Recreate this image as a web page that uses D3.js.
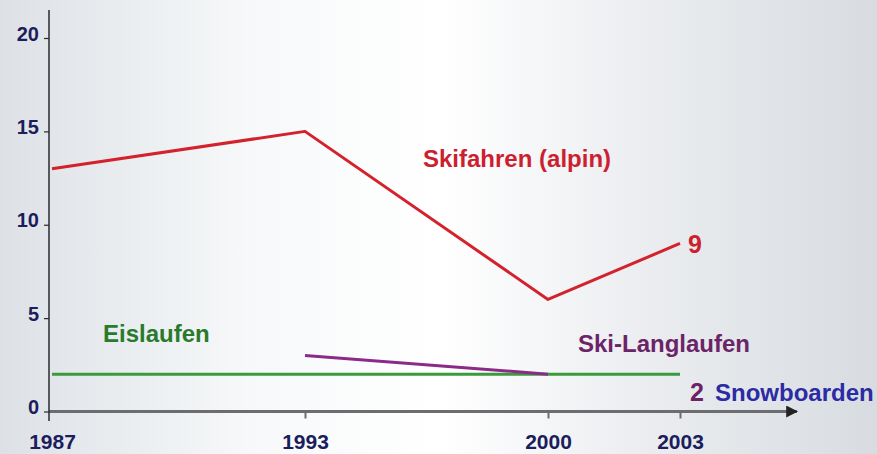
<!DOCTYPE html>
<html>
<head>
<meta charset="utf-8">
<script src="https://cdnjs.cloudflare.com/ajax/libs/d3/7.8.5/d3.min.js"></script>
<style>
  body { margin: 0; padding: 0; overflow: hidden; }
  svg { display: block; }
</style>
</head>
<body>
<div id="chart"></div>
<script>

// Data
var years = [1987, 1993, 2000, 2003];
var yTicks = [0, 5, 10, 15, 20];

var skiAlpinYears = [1987, 1993, 2000, 2003];
var skiAlpinValues = [13, 15, 6, 9];

var eislaufenYears = [1987, 2003];
var eislaufenValues = [2, 2];

var langlaufYears = [1993, 2000];
var langlaufValues = [3, 2];

// SVG frame
var svgWidth = 877;
var svgHeight = 454;

var svg = d3.select("#chart")
            .append("svg")
            .attr("width", svgWidth)
            .attr("height", svgHeight);

// background gradient
var defs = svg.append("defs");
var grad = defs.append("linearGradient")
               .attr("id", "bg")
               .attr("x1", "0%").attr("x2", "100%")
               .attr("y1", "0%").attr("y2", "0%");
grad.append("stop").attr("offset", "0%").attr("stop-color", "#dde1e6");
grad.append("stop").attr("offset", "28%").attr("stop-color", "#f6f8f9");
grad.append("stop").attr("offset", "50%").attr("stop-color", "#ffffff");
grad.append("stop").attr("offset", "72%").attr("stop-color", "#eceef1");
grad.append("stop").attr("offset", "100%").attr("stop-color", "#d8dce0");

svg.append("rect")
   .attr("width", svgWidth)
   .attr("height", svgHeight)
   .attr("fill", "url(#bg)");

// arrow head for x axis
defs.append("marker")
    .attr("id", "arrow")
    .attr("viewBox", "0 0 10 10")
    .attr("refX", 9)
    .attr("refY", 5)
    .attr("markerWidth", 4)
    .attr("markerHeight", 4)
    .attr("markerUnits", "strokeWidth")
    .attr("orient", "auto")
  .append("path")
    .attr("d", "M0,0 L10,5 L0,10 Z")
    .attr("fill", "#222");

// scales (years are not evenly spaced on the original axis)
var axisX = 49;
var axisY = 411.5;

var xScale = d3.scaleLinear()
               .domain(years)
               .range([52, 305, 548, 680]);

var yScale = d3.scaleLinear()
               .domain([0, 20])
               .range([axisY, 38]);

// axis lines
svg.append("line")
   .attr("x1", axisX).attr("x2", 797)
   .attr("y1", axisY).attr("y2", axisY)
   .attr("stroke", "#6b6d70")
   .attr("stroke-width", 3)
   .attr("marker-end", "url(#arrow)");

svg.append("line")
   .attr("x1", axisX).attr("x2", axisX)
   .attr("y1", 10).attr("y2", 421)
   .attr("stroke", "#2a2a2a")
   .attr("stroke-width", 1.5);

// y axis ticks + labels
var leftAxis = d3.axisLeft(yScale)
                 .tickValues(yTicks)
                 .tickSize(5)
                 .tickPadding(5);

var yAxis = svg.append("g")
               .attr("transform", `translate(${axisX}, 0)`)
               .call(leftAxis);
yAxis.select(".domain").remove();
yAxis.selectAll("line").attr("stroke", "#2a2a2a").attr("stroke-width", 1.2);
yAxis.selectAll("text")
     .attr("dy", "0.1em")
     .attr("fill", "#1b1d5c")
     .attr("font-family", "Liberation Sans")
     .attr("font-weight", "bold")
     .attr("font-size", "20px");

// x axis ticks + labels
var bottomAxis = d3.axisBottom(xScale)
                   .tickValues(years)
                   .tickFormat(d3.format("d"))
                   .tickSize(7);

var xAxis = svg.append("g")
               .attr("transform", `translate(0, ${axisY})`)
               .call(bottomAxis);
xAxis.select(".domain").remove();
xAxis.selectAll("line").attr("stroke", "#6b6d70").attr("stroke-width", 2);
xAxis.selectAll("text")
     .attr("y", 37)
     .attr("dy", 0)
     .attr("fill", "#1b1d5c")
     .attr("font-family", "Liberation Sans")
     .attr("font-weight", "bold")
     .attr("font-size", "21px");
// 1987 tick sits on the y axis
xAxis.selectAll(".tick").filter(d => d === 1987).select("line").remove();

// lines
var line = d3.line()
             .x(d => xScale(d[0]))
             .y(d => yScale(d[1]));

svg.append("path")
   .datum(d3.zip(eislaufenYears, eislaufenValues))
   .attr("d", line)
   .attr("fill", "none")
   .attr("stroke", "#3a9a3c")
   .attr("stroke-width", 3);

svg.append("path")
   .datum(d3.zip(langlaufYears, langlaufValues))
   .attr("d", line)
   .attr("fill", "none")
   .attr("stroke", "#8b2a88")
   .attr("stroke-width", 3);

svg.append("path")
   .datum(d3.zip(skiAlpinYears, skiAlpinValues))
   .attr("d", line)
   .attr("fill", "none")
   .attr("stroke", "#d3222c")
   .attr("stroke-width", 3)
   .attr("stroke-linejoin", "round");

// annotations
function addLabel(x, y, txt, color, size, weight) {
  return svg.append("text")
            .attr("x", x)
            .attr("y", y)
            .text(txt)
            .attr("fill", color)
            .attr("font-family", "Liberation Sans")
            .attr("font-size", size)
            .attr("font-weight", weight);
}

addLabel(423, 167, "Skifahren (alpin)", "#cc1f2f", "24px", "bold");
addLabel(688, 253, "9", "#cc1f2f", "25px", "bold");
addLabel(690, 401, "2", "#6b2468", "25px", "bold");
addLabel(103, 342, "Eislaufen", "#2a7a2c", "24px", "bold");
addLabel(578, 352, "Ski-Langlaufen", "#6b2468", "24px", "bold");
addLabel(715, 401, "Snowboarden", "#2b2ba5", "24px", "bold");

</script>
</body>
</html>
